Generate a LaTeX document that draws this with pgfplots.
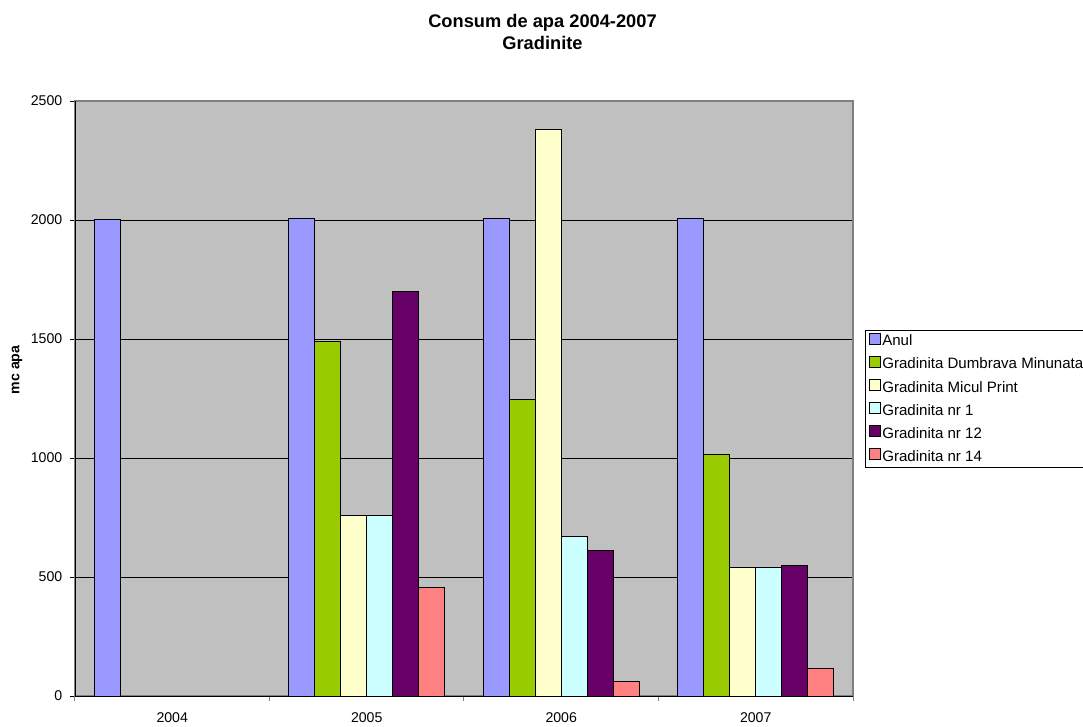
\documentclass[border=0pt]{standalone}
\usepackage{fontspec}
\setmainfont{Liberation Sans}
\usepackage{pgfplots}
\pgfplotsset{compat=1.18}
\definecolor{cAnul}{HTML}{9999FF}
\definecolor{cDumb}{HTML}{99CC00}
\definecolor{cMicul}{HTML}{FFFFCC}
\definecolor{cNr1}{HTML}{CCFFFF}
\definecolor{cNr12}{HTML}{660066}
\definecolor{cNr14}{HTML}{FF8080}
\definecolor{bg}{HTML}{C0C0C0}
\definecolor{frame}{HTML}{808080}
\begin{document}
\begin{tikzpicture}
\useasboundingbox (0,0) rectangle (812.25pt,544.5pt);
\begin{axis}[
  at={(56.25pt,22.5pt)}, anchor=south west,
  scale only axis, width=583.5pt, height=446.25pt,
  xmin=-0.5, xmax=3.5, ymin=0, ymax=2500,
  ybar=0pt, bar width=0.1337,
  axis background/.style={fill=bg},
  axis line style={draw=frame, line width=1pt},
  xtick={0,1,2,3}, xticklabels={2004,2005,2006,2007},
  minor xtick={-0.5,0.5,1.5,2.5,3.5},
  major x tick style={draw=none},
  minor x tick style={draw=frame, line width=0.75pt},
  ytick={0,500,1000,1500,2000,2500},
  y tick style={draw=black, line width=0.6pt},
  tick align=outside, xtick pos=bottom, ytick pos=left,
  major tick length=3.75pt, minor tick length=3.75pt,
  ymajorgrids, major grid style={draw=black, line width=0.6pt},
  tick label style={font=\fontsize{10.6}{12}\selectfont},
  xticklabel style={yshift=-5.25pt},
  yticklabel style={xshift=-2.25pt},
  /pgf/number format/assume math mode=true,
  scaled y ticks=false,
  yticklabel style={/pgf/number format/.cd, fixed, 1000 sep={}},
  title={Consum de apa 2004-2007\\Gradinite},
  title style={font=\bfseries\fontsize{13.7}{16.3}\selectfont, align=center, at={(axis description cs:0.6009,1.1025)}, anchor=center, inner sep=0pt},
  ylabel={mc apa},
  ylabel style={font=\bfseries\fontsize{10.6}{12}\selectfont, at={(axis description cs:-0.0745,0.548)}, anchor=center},
  legend style={at={(axis description cs:1.0154,0.6151)}, anchor=north west,
    draw=black, line width=0.75pt, fill=white, font=\fontsize{11.3}{13}\selectfont,
    inner xsep=0pt, inner ysep=1.6pt, row sep=4.2pt,
    nodes={inner xsep=1pt, inner ysep=1pt, text height=8pt, text depth=2.2pt}},
  legend cell align=left,
  legend image code/.code={\path[draw=none, fill=none] (0pt,0pt) -- (11.25pt,0pt); \draw[#1, draw=black, line width=0.75pt] (3pt,-1.6pt) rectangle (11.25pt,6.65pt);},
]
\addplot[fill=cAnul, draw=black, line width=0.75pt, bar shift=-0.33425] coordinates {(0,2004) (1,2005) (2,2006) (3,2007)};
\addplot[fill=cDumb, draw=black, line width=0.75pt, bar shift=-0.20055] coordinates {(1,1490) (2,1245) (3,1013)};
\addplot[fill=cMicul, draw=black, line width=0.75pt, bar shift=-0.06685] coordinates {(1,760) (2,2381) (3,538)};
\addplot[fill=cNr1, draw=black, line width=0.75pt, bar shift=0.06685] coordinates {(1,759) (2,669) (3,541)};
\addplot[fill=cNr12, draw=black, line width=0.75pt, bar shift=0.20055] coordinates {(1,1700) (2,612) (3,547)};
\addplot[fill=cNr14, draw=black, line width=0.75pt, bar shift=0.33425] coordinates {(1,454) (2,60) (3,116)};
\legend{Anul, Gradinita Dumbrava Minunata, Gradinita Micul Print, Gradinita nr 1, Gradinita nr 12, Gradinita nr 14}
\draw[black, line width=0.75pt] (rel axis cs:0,0) -- (rel axis cs:1,0);
\draw[black, line width=0.6pt] (rel axis cs:0,0) -- (rel axis cs:0,1);
\end{axis}
\end{tikzpicture}
\end{document}
